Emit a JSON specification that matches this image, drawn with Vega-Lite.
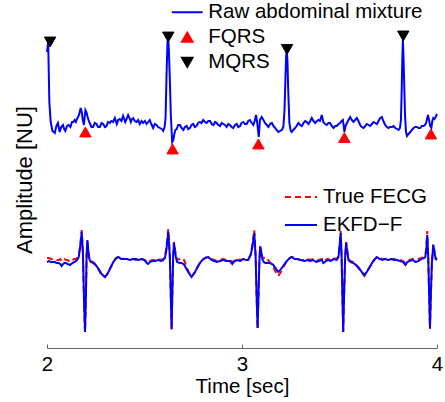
{
"$schema":"https://vega.github.io/schema/vega-lite/v6.json",
"width":390,"height":348,
"autosize":{"type":"none"},
"padding":{"left":47,"top":0,"right":8,"bottom":54},
"config":{"font":"Liberation Sans","view":{"stroke":null},"axisX":{"labelOverlap":false},"legend":{"labelFont":"Liberation Sans","labelFontSize":20.5,"labelColor":"#000000","labelLimit":0}},
"datasets":{
"raw":[
{"t":2.000,"v":21.0},{"t":2.006,"v":22.0},{"t":2.012,"v":16.0},{"t":2.019,"v":14.0},{"t":2.028,"v":13.1},{"t":2.040,"v":12.9},{"t":2.048,"v":13.6},{"t":2.056,"v":13.9},{"t":2.065,"v":13.0},{"t":2.073,"v":13.5},{"t":2.082,"v":13.7},{"t":2.088,"v":13.3},{"t":2.094,"v":13.1},{"t":2.103,"v":13.6},{"t":2.111,"v":13.7},{"t":2.120,"v":13.5},{"t":2.128,"v":14.0},{"t":2.134,"v":14.0},{"t":2.142,"v":14.2},{"t":2.148,"v":14.0},{"t":2.154,"v":14.3},{"t":2.164,"v":14.7},{"t":2.173,"v":15.4},{"t":2.178,"v":15.0},{"t":2.182,"v":14.4},{"t":2.189,"v":13.7},{"t":2.197,"v":15.2},{"t":2.202,"v":15.0},{"t":2.207,"v":14.6},{"t":2.213,"v":14.2},{"t":2.219,"v":13.9},{"t":2.228,"v":13.5},{"t":2.236,"v":13.5},{"t":2.245,"v":13.9},{"t":2.254,"v":13.8},{"t":2.262,"v":13.5},{"t":2.271,"v":13.5},{"t":2.280,"v":13.9},{"t":2.288,"v":13.8},{"t":2.297,"v":13.5},{"t":2.305,"v":13.6},{"t":2.313,"v":14.0},{"t":2.322,"v":13.9},{"t":2.330,"v":14.1},{"t":2.339,"v":14.0},{"t":2.348,"v":14.4},{"t":2.358,"v":13.8},{"t":2.365,"v":14.2},{"t":2.373,"v":14.3},{"t":2.382,"v":14.1},{"t":2.390,"v":14.6},{"t":2.401,"v":14.0},{"t":2.408,"v":14.3},{"t":2.416,"v":14.7},{"t":2.423,"v":14.4},{"t":2.430,"v":14.0},{"t":2.436,"v":14.3},{"t":2.442,"v":14.4},{"t":2.450,"v":14.1},{"t":2.459,"v":14.0},{"t":2.467,"v":14.2},{"t":2.476,"v":13.8},{"t":2.485,"v":14.1},{"t":2.493,"v":13.9},{"t":2.502,"v":14.1},{"t":2.511,"v":13.8},{"t":2.519,"v":14.0},{"t":2.527,"v":14.2},{"t":2.535,"v":13.8},{"t":2.544,"v":13.4},{"t":2.553,"v":13.8},{"t":2.562,"v":13.7},{"t":2.570,"v":13.5},{"t":2.579,"v":13.4},{"t":2.588,"v":13.3},{"t":2.596,"v":13.1},{"t":2.603,"v":13.5},{"t":2.608,"v":14.4},{"t":2.613,"v":18.7},{"t":2.618,"v":22.0},{"t":2.621,"v":22.5},{"t":2.625,"v":21.2},{"t":2.630,"v":18.2},{"t":2.635,"v":14.7},{"t":2.642,"v":12.0},{"t":2.648,"v":12.2},{"t":2.652,"v":12.7},{"t":2.658,"v":13.2},{"t":2.665,"v":13.3},{"t":2.673,"v":13.7},{"t":2.682,"v":13.7},{"t":2.690,"v":13.4},{"t":2.699,"v":13.2},{"t":2.707,"v":13.5},{"t":2.716,"v":13.6},{"t":2.724,"v":13.3},{"t":2.733,"v":13.4},{"t":2.741,"v":13.7},{"t":2.750,"v":13.8},{"t":2.758,"v":13.5},{"t":2.767,"v":13.6},{"t":2.775,"v":13.9},{"t":2.784,"v":14.0},{"t":2.792,"v":13.9},{"t":2.801,"v":14.2},{"t":2.810,"v":14.0},{"t":2.819,"v":13.9},{"t":2.827,"v":14.1},{"t":2.836,"v":14.1},{"t":2.845,"v":13.8},{"t":2.853,"v":13.7},{"t":2.862,"v":14.0},{"t":2.870,"v":13.9},{"t":2.879,"v":13.7},{"t":2.887,"v":13.6},{"t":2.896,"v":13.9},{"t":2.904,"v":13.8},{"t":2.913,"v":13.7},{"t":2.921,"v":13.5},{"t":2.930,"v":13.8},{"t":2.938,"v":13.7},{"t":2.947,"v":13.5},{"t":2.955,"v":13.4},{"t":2.964,"v":13.7},{"t":2.973,"v":13.8},{"t":2.981,"v":13.5},{"t":2.990,"v":13.6},{"t":2.998,"v":13.9},{"t":3.007,"v":14.0},{"t":3.015,"v":13.8},{"t":3.024,"v":13.8},{"t":3.032,"v":14.1},{"t":3.041,"v":14.2},{"t":3.050,"v":13.9},{"t":3.058,"v":13.7},{"t":3.065,"v":14.1},{"t":3.072,"v":14.7},{"t":3.078,"v":13.9},{"t":3.086,"v":12.5},{"t":3.092,"v":14.2},{"t":3.101,"v":14.5},{"t":3.110,"v":14.2},{"t":3.118,"v":13.9},{"t":3.127,"v":13.7},{"t":3.135,"v":13.5},{"t":3.144,"v":13.8},{"t":3.153,"v":13.9},{"t":3.161,"v":13.6},{"t":3.170,"v":13.4},{"t":3.178,"v":13.2},{"t":3.187,"v":13.0},{"t":3.195,"v":13.1},{"t":3.204,"v":13.2},{"t":3.212,"v":13.5},{"t":3.218,"v":15.2},{"t":3.222,"v":17.9},{"t":3.226,"v":20.4},{"t":3.229,"v":21.2},{"t":3.233,"v":20.2},{"t":3.237,"v":17.2},{"t":3.243,"v":13.9},{"t":3.250,"v":13.1},{"t":3.255,"v":13.0},{"t":3.263,"v":13.2},{"t":3.272,"v":13.4},{"t":3.280,"v":13.6},{"t":3.289,"v":13.9},{"t":3.298,"v":13.7},{"t":3.307,"v":13.6},{"t":3.315,"v":13.9},{"t":3.324,"v":14.1},{"t":3.332,"v":14.0},{"t":3.341,"v":13.8},{"t":3.350,"v":14.1},{"t":3.358,"v":14.4},{"t":3.366,"v":14.1},{"t":3.375,"v":13.9},{"t":3.384,"v":14.1},{"t":3.392,"v":14.2},{"t":3.400,"v":14.1},{"t":3.409,"v":14.7},{"t":3.417,"v":14.0},{"t":3.426,"v":13.8},{"t":3.435,"v":13.7},{"t":3.443,"v":13.9},{"t":3.452,"v":13.9},{"t":3.460,"v":13.6},{"t":3.469,"v":13.4},{"t":3.478,"v":13.6},{"t":3.486,"v":13.6},{"t":3.495,"v":13.8},{"t":3.503,"v":13.9},{"t":3.511,"v":14.1},{"t":3.517,"v":14.2},{"t":3.521,"v":13.7},{"t":3.525,"v":13.0},{"t":3.531,"v":13.6},{"t":3.538,"v":13.9},{"t":3.546,"v":14.2},{"t":3.555,"v":14.5},{"t":3.563,"v":14.2},{"t":3.572,"v":14.0},{"t":3.580,"v":14.2},{"t":3.589,"v":14.4},{"t":3.597,"v":14.1},{"t":3.606,"v":13.7},{"t":3.614,"v":13.5},{"t":3.623,"v":13.4},{"t":3.632,"v":13.6},{"t":3.640,"v":13.8},{"t":3.649,"v":13.7},{"t":3.657,"v":13.6},{"t":3.666,"v":13.8},{"t":3.674,"v":14.0},{"t":3.683,"v":13.9},{"t":3.692,"v":13.8},{"t":3.700,"v":14.1},{"t":3.709,"v":14.4},{"t":3.717,"v":14.5},{"t":3.725,"v":14.1},{"t":3.734,"v":13.7},{"t":3.743,"v":13.5},{"t":3.751,"v":13.4},{"t":3.760,"v":13.5},{"t":3.769,"v":13.5},{"t":3.777,"v":13.6},{"t":3.786,"v":13.4},{"t":3.795,"v":13.3},{"t":3.803,"v":13.2},{"t":3.810,"v":13.4},{"t":3.815,"v":14.2},{"t":3.819,"v":17.2},{"t":3.822,"v":20.2},{"t":3.825,"v":22.2},{"t":3.828,"v":20.7},{"t":3.832,"v":17.7},{"t":3.836,"v":14.7},{"t":3.841,"v":13.0},{"t":3.846,"v":12.6},{"t":3.854,"v":12.8},{"t":3.863,"v":13.0},{"t":3.871,"v":13.2},{"t":3.880,"v":13.4},{"t":3.888,"v":13.5},{"t":3.897,"v":13.5},{"t":3.905,"v":13.4},{"t":3.914,"v":13.4},{"t":3.922,"v":13.6},{"t":3.931,"v":13.6},{"t":3.938,"v":13.7},{"t":3.944,"v":13.9},{"t":3.950,"v":14.4},{"t":3.954,"v":14.7},{"t":3.959,"v":14.2},{"t":3.965,"v":13.6},{"t":3.971,"v":13.4},{"t":3.976,"v":14.1},{"t":3.981,"v":14.4},{"t":3.987,"v":14.3},{"t":3.993,"v":14.5},{"t":4.000,"v":14.8}
],
"qrs":[
{"t":2.016,"v":22.0,"s":"MQRS"},{"t":2.622,"v":22.5,"s":"MQRS"},{"t":3.231,"v":21.25,"s":"MQRS"},{"t":3.827,"v":22.6,"s":"MQRS"},
{"t":2.197,"v":13.0,"s":"FQRS"},{"t":2.644,"v":11.3,"s":"FQRS"},{"t":3.084,"v":11.8,"s":"FQRS"},{"t":3.525,"v":12.45,"s":"FQRS"},{"t":3.969,"v":12.8,"s":"FQRS"}
],
"fecg":[
{"t":2.000,"True FECG":0.4,"EKFD−F":0.0},{"t":2.010,"True FECG":0.4,"EKFD−F":0.1},{"t":2.020,"True FECG":0.3,"EKFD−F":0.0},{"t":2.030,"True FECG":0.3,"EKFD−F":0.0},{"t":2.040,"True FECG":0.3,"EKFD−F":0.0},{"t":2.050,"True FECG":0.2,"EKFD−F":-0.1},{"t":2.060,"True FECG":0.2,"EKFD−F":-0.1},{"t":2.068,"True FECG":0.3,"EKFD−F":-0.2},{"t":2.075,"True FECG":0.1,"EKFD−F":-0.4},{"t":2.083,"True FECG":0.3,"EKFD−F":-0.2},{"t":2.090,"True FECG":0.3,"EKFD−F":-0.1},{"t":2.098,"True FECG":0.2,"EKFD−F":-0.1},{"t":2.105,"True FECG":0.2,"EKFD−F":-0.2},{"t":2.118,"True FECG":0.0,"EKFD−F":-0.3},{"t":2.130,"True FECG":0.2,"EKFD−F":-0.1},{"t":2.140,"True FECG":0.3,"EKFD−F":0.0},{"t":2.150,"True FECG":0.3,"EKFD−F":0.1},{"t":2.157,"True FECG":0.5,"EKFD−F":0.3},{"t":2.163,"True FECG":0.7,"EKFD−F":0.5},{"t":2.170,"True FECG":1.6,"EKFD−F":1.5},{"t":2.178,"True FECG":3.2,"EKFD−F":3.0},{"t":2.184,"True FECG":1.0,"EKFD−F":1.0},{"t":2.190,"True FECG":-4.0,"EKFD−F":-4.0},{"t":2.195,"True FECG":-7.0,"EKFD−F":-7.0},{"t":2.199,"True FECG":-4.0,"EKFD−F":-4.0},{"t":2.203,"True FECG":0.5,"EKFD−F":0.5},{"t":2.207,"True FECG":2.2,"EKFD−F":2.2},{"t":2.212,"True FECG":1.1,"EKFD−F":1.0},{"t":2.217,"True FECG":0.4,"EKFD−F":0.3},{"t":2.225,"True FECG":0.1,"EKFD−F":0.0},{"t":2.237,"True FECG":0.0,"EKFD−F":-0.1},{"t":2.250,"True FECG":-0.3,"EKFD−F":-0.3},{"t":2.265,"True FECG":-0.8,"EKFD−F":-0.7},{"t":2.280,"True FECG":-1.3,"EKFD−F":-1.2},{"t":2.297,"True FECG":-1.5,"EKFD−F":-1.5},{"t":2.310,"True FECG":-1.2,"EKFD−F":-1.2},{"t":2.325,"True FECG":-0.6,"EKFD−F":-0.6},{"t":2.340,"True FECG":0.0,"EKFD−F":0.0},{"t":2.355,"True FECG":0.4,"EKFD−F":0.4},{"t":2.366,"True FECG":0.5,"EKFD−F":0.5},{"t":2.380,"True FECG":0.4,"EKFD−F":0.3},{"t":2.395,"True FECG":0.3,"EKFD−F":0.3},{"t":2.410,"True FECG":0.3,"EKFD−F":0.3},{"t":2.425,"True FECG":0.3,"EKFD−F":0.2},{"t":2.440,"True FECG":0.3,"EKFD−F":0.3},{"t":2.455,"True FECG":0.2,"EKFD−F":0.3},{"t":2.470,"True FECG":0.3,"EKFD−F":0.2},{"t":2.485,"True FECG":0.3,"EKFD−F":0.3},{"t":2.500,"True FECG":0.2,"EKFD−F":0.2},{"t":2.512,"True FECG":0.0,"EKFD−F":-0.1},{"t":2.519,"True FECG":-0.1,"EKFD−F":-0.2},{"t":2.528,"True FECG":0.1,"EKFD−F":0.0},{"t":2.540,"True FECG":0.2,"EKFD−F":0.1},{"t":2.555,"True FECG":0.2,"EKFD−F":0.1},{"t":2.570,"True FECG":0.3,"EKFD−F":0.2},{"t":2.585,"True FECG":0.2,"EKFD−F":0.1},{"t":2.596,"True FECG":0.3,"EKFD−F":0.2},{"t":2.605,"True FECG":0.5,"EKFD−F":0.4},{"t":2.612,"True FECG":1.4,"EKFD−F":1.2},{"t":2.622,"True FECG":3.3,"EKFD−F":3.0},{"t":2.630,"True FECG":0.6,"EKFD−F":0.5},{"t":2.635,"True FECG":-3.5,"EKFD−F":-3.5},{"t":2.639,"True FECG":-6.8,"EKFD−F":-6.7},{"t":2.643,"True FECG":-3.0,"EKFD−F":-3.0},{"t":2.647,"True FECG":0.5,"EKFD−F":0.5},{"t":2.651,"True FECG":2.0,"EKFD−F":1.9},{"t":2.656,"True FECG":1.3,"EKFD−F":1.2},{"t":2.661,"True FECG":0.6,"EKFD−F":0.5},{"t":2.667,"True FECG":0.2,"EKFD−F":0.0},{"t":2.680,"True FECG":0.3,"EKFD−F":-0.1},{"t":2.690,"True FECG":0.4,"EKFD−F":-0.1},{"t":2.700,"True FECG":0.3,"EKFD−F":-0.2},{"t":2.707,"True FECG":0.0,"EKFD−F":-0.4},{"t":2.724,"True FECG":-0.9,"EKFD−F":-1.0},{"t":2.741,"True FECG":-1.5,"EKFD−F":-1.5},{"t":2.759,"True FECG":-1.0,"EKFD−F":-1.0},{"t":2.772,"True FECG":-0.5,"EKFD−F":-0.5},{"t":2.784,"True FECG":-0.1,"EKFD−F":-0.1},{"t":2.797,"True FECG":0.2,"EKFD−F":0.2},{"t":2.810,"True FECG":0.4,"EKFD−F":0.4},{"t":2.827,"True FECG":0.5,"EKFD−F":0.5},{"t":2.844,"True FECG":0.3,"EKFD−F":0.2},{"t":2.857,"True FECG":0.2,"EKFD−F":0.1},{"t":2.870,"True FECG":0.1,"EKFD−F":0.0},{"t":2.887,"True FECG":0.2,"EKFD−F":0.1},{"t":2.904,"True FECG":0.3,"EKFD−F":0.2},{"t":2.921,"True FECG":0.2,"EKFD−F":0.1},{"t":2.938,"True FECG":0.2,"EKFD−F":0.1},{"t":2.950,"True FECG":0.0,"EKFD−F":-0.2},{"t":2.958,"True FECG":0.1,"EKFD−F":0.0},{"t":2.973,"True FECG":0.3,"EKFD−F":0.2},{"t":2.990,"True FECG":0.2,"EKFD−F":0.1},{"t":3.007,"True FECG":0.3,"EKFD−F":0.3},{"t":3.020,"True FECG":0.3,"EKFD−F":0.2},{"t":3.032,"True FECG":0.3,"EKFD−F":0.2},{"t":3.045,"True FECG":0.8,"EKFD−F":0.7},{"t":3.053,"True FECG":1.7,"EKFD−F":1.5},{"t":3.063,"True FECG":3.2,"EKFD−F":2.9},{"t":3.070,"True FECG":0.6,"EKFD−F":0.5},{"t":3.075,"True FECG":-3.5,"EKFD−F":-3.5},{"t":3.080,"True FECG":-6.7,"EKFD−F":-6.6},{"t":3.085,"True FECG":-3.0,"EKFD−F":-3.0},{"t":3.089,"True FECG":0.0,"EKFD−F":0.0},{"t":3.093,"True FECG":1.6,"EKFD−F":1.5},{"t":3.098,"True FECG":1.2,"EKFD−F":1.1},{"t":3.104,"True FECG":0.5,"EKFD−F":0.3},{"t":3.112,"True FECG":0.4,"EKFD−F":0.0},{"t":3.120,"True FECG":0.5,"EKFD−F":-0.1},{"t":3.130,"True FECG":0.3,"EKFD−F":-0.1},{"t":3.145,"True FECG":-0.1,"EKFD−F":-0.1},{"t":3.161,"True FECG":-0.5,"EKFD−F":-0.3},{"t":3.175,"True FECG":-1.1,"EKFD−F":-0.7},{"t":3.186,"True FECG":-1.4,"EKFD−F":-1.0},{"t":3.200,"True FECG":-1.0,"EKFD−F":-0.7},{"t":3.215,"True FECG":-0.4,"EKFD−F":-0.3},{"t":3.230,"True FECG":0.1,"EKFD−F":0.1},{"t":3.245,"True FECG":0.4,"EKFD−F":0.4},{"t":3.255,"True FECG":0.5,"EKFD−F":0.5},{"t":3.270,"True FECG":0.4,"EKFD−F":0.3},{"t":3.285,"True FECG":0.3,"EKFD−F":0.3},{"t":3.300,"True FECG":0.2,"EKFD−F":0.2},{"t":3.320,"True FECG":0.2,"EKFD−F":0.1},{"t":3.335,"True FECG":0.3,"EKFD−F":0.2},{"t":3.350,"True FECG":0.2,"EKFD−F":0.1},{"t":3.365,"True FECG":0.3,"EKFD−F":0.2},{"t":3.380,"True FECG":0.1,"EKFD−F":0.0},{"t":3.395,"True FECG":0.2,"EKFD−F":0.1},{"t":3.410,"True FECG":0.3,"EKFD−F":0.2},{"t":3.417,"True FECG":0.1,"EKFD−F":-0.1},{"t":3.425,"True FECG":0.2,"EKFD−F":0.0},{"t":3.440,"True FECG":0.3,"EKFD−F":0.2},{"t":3.455,"True FECG":0.2,"EKFD−F":0.1},{"t":3.470,"True FECG":0.4,"EKFD−F":0.3},{"t":3.485,"True FECG":0.3,"EKFD−F":0.2},{"t":3.495,"True FECG":0.6,"EKFD−F":0.5},{"t":3.500,"True FECG":1.6,"EKFD−F":1.5},{"t":3.506,"True FECG":3.1,"EKFD−F":2.9},{"t":3.511,"True FECG":0.6,"EKFD−F":0.5},{"t":3.515,"True FECG":-3.5,"EKFD−F":-3.5},{"t":3.519,"True FECG":-7.0,"EKFD−F":-7.0},{"t":3.524,"True FECG":-3.0,"EKFD−F":-3.0},{"t":3.529,"True FECG":0.5,"EKFD−F":0.5},{"t":3.534,"True FECG":2.0,"EKFD−F":1.9},{"t":3.540,"True FECG":1.1,"EKFD−F":1.0},{"t":3.546,"True FECG":0.3,"EKFD−F":0.2},{"t":3.556,"True FECG":0.1,"EKFD−F":0.0},{"t":3.570,"True FECG":0.0,"EKFD−F":-0.1},{"t":3.585,"True FECG":-0.3,"EKFD−F":-0.3},{"t":3.600,"True FECG":-0.7,"EKFD−F":-0.6},{"t":3.614,"True FECG":-1.1,"EKFD−F":-1.0},{"t":3.628,"True FECG":-1.4,"EKFD−F":-1.3},{"t":3.640,"True FECG":-1.0,"EKFD−F":-1.0},{"t":3.655,"True FECG":-0.5,"EKFD−F":-0.5},{"t":3.670,"True FECG":0.0,"EKFD−F":0.0},{"t":3.682,"True FECG":0.3,"EKFD−F":0.3},{"t":3.692,"True FECG":0.5,"EKFD−F":0.5},{"t":3.705,"True FECG":0.4,"EKFD−F":0.3},{"t":3.720,"True FECG":0.3,"EKFD−F":0.2},{"t":3.735,"True FECG":0.3,"EKFD−F":0.3},{"t":3.750,"True FECG":0.3,"EKFD−F":0.2},{"t":3.765,"True FECG":0.3,"EKFD−F":0.3},{"t":3.780,"True FECG":0.3,"EKFD−F":0.2},{"t":3.795,"True FECG":0.2,"EKFD−F":0.2},{"t":3.810,"True FECG":0.2,"EKFD−F":0.1},{"t":3.825,"True FECG":0.1,"EKFD−F":0.0},{"t":3.838,"True FECG":-0.1,"EKFD−F":-0.3},{"t":3.848,"True FECG":0.1,"EKFD−F":0.0},{"t":3.860,"True FECG":0.2,"EKFD−F":0.1},{"t":3.875,"True FECG":0.3,"EKFD−F":0.2},{"t":3.890,"True FECG":0.2,"EKFD−F":0.0},{"t":3.905,"True FECG":0.3,"EKFD−F":0.1},{"t":3.920,"True FECG":0.4,"EKFD−F":0.3},{"t":3.935,"True FECG":0.5,"EKFD−F":0.4},{"t":3.940,"True FECG":0.7,"EKFD−F":0.5},{"t":3.945,"True FECG":1.4,"EKFD−F":1.2},{"t":3.950,"True FECG":3.1,"EKFD−F":2.7},{"t":3.955,"True FECG":0.6,"EKFD−F":0.5},{"t":3.960,"True FECG":-3.5,"EKFD−F":-3.5},{"t":3.964,"True FECG":-6.7,"EKFD−F":-6.6},{"t":3.969,"True FECG":-3.0,"EKFD−F":-3.0},{"t":3.974,"True FECG":0.0,"EKFD−F":0.0},{"t":3.981,"True FECG":1.8,"EKFD−F":1.7},{"t":3.987,"True FECG":1.1,"EKFD−F":1.0},{"t":3.993,"True FECG":0.4,"EKFD−F":0.3},{"t":4.000,"True FECG":0.3,"EKFD−F":0.2}
]
},
"encoding":{
"x":{"field":"t","type":"quantitative","scale":{"domain":[2,4],"nice":false,"zero":false},
"axis":{"values":[2,3,4],"labelExpr":"format(datum.value, 'd')","title":"Time [sec]","grid":false,"domainColor":"#666666","domainWidth":1,"tickColor":"#666666","tickSize":-4,"labelPadding":10.5,"labelFlush":false,"labelOverlap":false,"labelBound":false,"labelFontSize":20.5,"labelColor":"#000000","labelFont":"Liberation Sans","titleFont":"Liberation Sans","titleFontSize":20.5,"titleFontWeight":"normal","titleColor":"#000000","titlePadding":1}},
"y":{"field":"v","type":"quantitative","scale":{"domain":[-8.6,26.2],"nice":false,"zero":false},
"axis":{"domain":false,"ticks":false,"labels":false,"grid":false,"title":"Amplitude [NU]","titleFont":"Liberation Sans","titleFontSize":22,"titleFontWeight":"normal","titleColor":"#000000","titleAngle":-90,"titleX":-15.3,"titleY":179.5,"titleAlign":"center","titleBaseline":"alphabetic"}}
},
"layer":[
{"data":{"name":"fecg"},"transform":[{"fold":["True FECG"],"as":["series","v"]}],
"mark":{"type":"line","strokeWidth":2},
"encoding":{
"color":{"field":"series","type":"nominal","scale":{"domain":["True FECG","EKFD−F"],"range":["#ff0000","#0000ff"]},"legend":{"title":null,"orient":"none","legendX":237,"legendY":180,"symbolType":"stroke","symbolSize":1024,"symbolStrokeWidth":2,"labelOffset":5,"rowPadding":-9,"padding":0}},
"strokeDash":{"field":"series","type":"nominal","scale":{"domain":["True FECG","EKFD−F"],"range":[[6,4],[1,0]]},"legend":{"title":null,"orient":"none","legendX":237,"legendY":180,"symbolType":"stroke","symbolSize":1024,"symbolStrokeWidth":2,"labelOffset":5,"rowPadding":-9,"padding":0}}
}},
{"data":{"name":"fecg"},"transform":[{"fold":["EKFD−F"],"as":["series","v"]}],
"mark":{"type":"line","strokeWidth":2},
"encoding":{
"color":{"field":"series","type":"nominal","scale":{"domain":["True FECG","EKFD−F"],"range":["#ff0000","#0000ff"]},"legend":{"title":null,"orient":"none","legendX":237,"legendY":180,"symbolType":"stroke","symbolSize":1024,"symbolStrokeWidth":2,"labelOffset":5,"rowPadding":-9,"padding":0}},
"strokeDash":{"field":"series","type":"nominal","scale":{"domain":["True FECG","EKFD−F"],"range":[[6,4],[1,0]]},"legend":{"title":null,"orient":"none","legendX":237,"legendY":180,"symbolType":"stroke","symbolSize":1024,"symbolStrokeWidth":2,"labelOffset":5,"rowPadding":-9,"padding":0}}
}},
{"data":{"name":"raw"},"mark":{"type":"line","strokeWidth":2,"color":"#0000ff"},"encoding":{}},
{"data":{"name":"qrs"},
"mark":{"type":"point","filled":true,"size":130,"strokeWidth":1,"opacity":1},
"encoding":{
"fill":{"field":"s","type":"nominal","scale":{"domain":["Raw abdominal mixture","FQRS","MQRS"],"range":["#0000ff","#ff0000","#000000"]},"legend":{"title":null,"orient":"none","legendX":130,"legendY":2,"symbolSize":110,"symbolStrokeWidth":2,"labelOffset":10.75,"rowPadding":4,"padding":0,"labelLimit":0}},
"stroke":{"field":"s","type":"nominal","scale":{"domain":["Raw abdominal mixture","FQRS","MQRS"],"range":["#0000ff","#ff0000","#000000"]},"legend":{"title":null,"orient":"none","legendX":130,"legendY":2,"symbolSize":110,"symbolStrokeWidth":2,"labelOffset":10.75,"rowPadding":4,"padding":0,"labelLimit":0}},
"shape":{"field":"s","type":"nominal","scale":{"domain":["Raw abdominal mixture","FQRS","MQRS"],"range":["M-2.95,0H2.95","triangle-up","triangle-down"]},"legend":{"title":null,"orient":"none","legendX":130,"legendY":2,"symbolSize":110,"symbolStrokeWidth":2,"labelOffset":10.75,"rowPadding":4,"padding":0,"labelLimit":0}}
}}
]
}
